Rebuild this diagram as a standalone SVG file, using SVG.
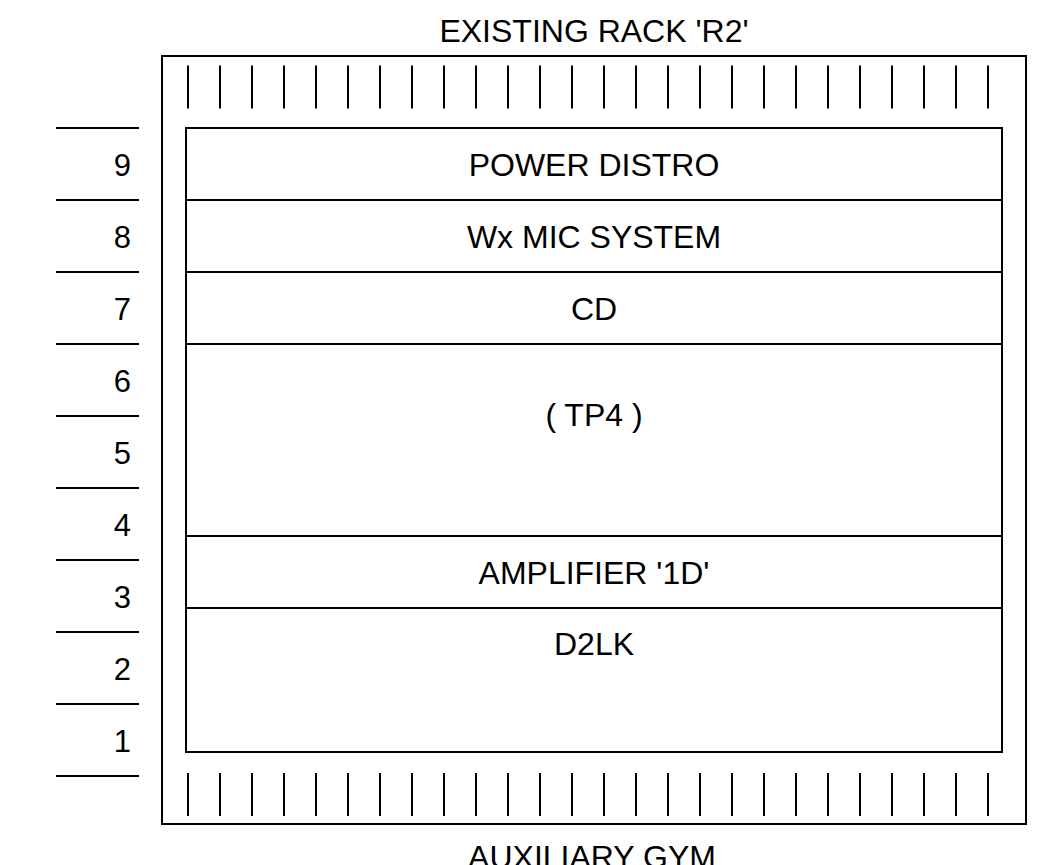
<svg xmlns="http://www.w3.org/2000/svg" width="1049" height="865" viewBox="0 0 1049 865">
<style>
.ln{stroke:#000;stroke-width:2;fill:none}
.tk{stroke:#000;stroke-width:2}
.t{font-family:"Liberation Sans",Arial,sans-serif;font-size:32px;fill:#000;text-anchor:middle}
.n{font-family:"Liberation Sans",Arial,sans-serif;font-size:31px;fill:#000;text-anchor:end}
</style>
<defs>
<g id="ticks">
<path class="tk" d="M188 0v43M220 0v43M252 0v43M284 0v43M316 0v43M348 0v43M380 0v43M412 0v43M444 0v43M476 0v43M508 0v43M540 0v43M572 0v43M604 0v43M636 0v43M668 0v43M700 0v43M732 0v43M764 0v43M796 0v43M828 0v43M860 0v43M892 0v43M924 0v43M956 0v43M988 0v43"/>
</g>
</defs>
<rect width="1049" height="865" fill="#fff"/>
<g id="rack">
<rect class="ln" x="162" y="56" width="864" height="768"/>
<use href="#ticks" y="65.5"/>
<use href="#ticks" y="773"/>
<text class="t" x="594" y="42">EXISTING RACK 'R2'</text>
<text class="t" x="592" y="868">AUXILIARY GYM</text>
</g>
<g id="scale">
<path class="ln" d="M56 128H139M56 200H139M56 272H139M56 344H139M56 416H139M56 488H139M56 560H139M56 632H139M56 704H139M56 776H139"/>
<text class="n" x="131" y="176">9</text>
<text class="n" x="131" y="248">8</text>
<text class="n" x="131" y="320">7</text>
<text class="n" x="131" y="392">6</text>
<text class="n" x="131" y="464">5</text>
<text class="n" x="131" y="536">4</text>
<text class="n" x="131" y="608">3</text>
<text class="n" x="131" y="680">2</text>
<text class="n" x="131" y="752">1</text>
</g>
<g id="power-distro">
<rect class="ln" x="186" y="128" width="816" height="72"/>
<text class="t" x="594" y="176">POWER DISTRO</text>
</g>
<g id="wx-mic">
<rect class="ln" x="186" y="200" width="816" height="72"/>
<text class="t" x="594" y="248">Wx MIC SYSTEM</text>
</g>
<g id="cd">
<rect class="ln" x="186" y="272" width="816" height="72"/>
<text class="t" x="594" y="320">CD</text>
</g>
<g id="tp4">
<rect class="ln" x="186" y="344" width="816" height="192"/>
<text class="t" x="594" y="426">( TP4 )</text>
</g>
<g id="amplifier">
<rect class="ln" x="186" y="536" width="816" height="72"/>
<text class="t" x="594" y="583.5">AMPLIFIER '1D'</text>
</g>
<g id="d2lk">
<rect class="ln" x="186" y="608" width="816" height="144"/>
<text class="t" x="594" y="655">D2LK</text>
</g>
<g id="connectors"/>
</svg>
